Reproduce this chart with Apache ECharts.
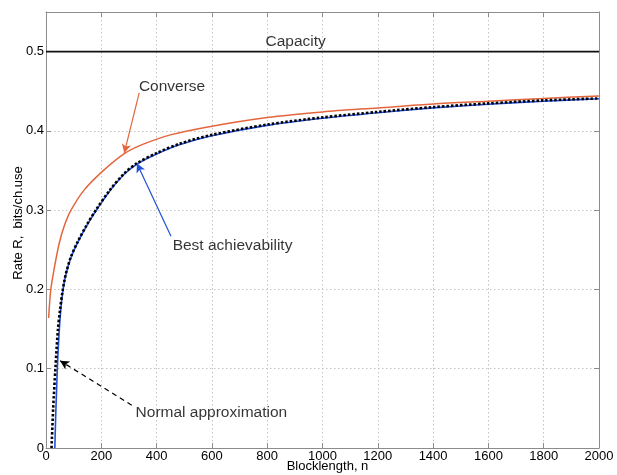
<!DOCTYPE html>
<html>
<head>
<meta charset="utf-8">
<script src="https://cdn.jsdelivr.net/npm/echarts@6/dist/echarts.min.js"></script>
<style>
html,body{margin:0;padding:0;background:#fff;}
#chart{width:617px;height:475px;}
</style>
</head>
<body>
<div id="chart"></div>
<script>
// ---- data ----
const xTicks = [0, 200, 400, 600, 800, 1000, 1200, 1400, 1600, 1800, 2000];
const yTicks = [0, 0.1, 0.2, 0.3, 0.4, 0.5];

const capacityN = [0, 2000];
const capacityR = [0.5, 0.5];

const converseN = [9.6, 17, 29, 47, 65, 89, 137, 204, 286, 350, 450, 600, 800, 1000, 1200, 1400, 1600, 1800, 2000];
const converseR = [0.164, 0.199, 0.225, 0.257, 0.279, 0.299, 0.325, 0.349, 0.372, 0.383, 0.395, 0.406, 0.417, 0.424, 0.429, 0.434, 0.4375, 0.441, 0.444];

const achieveN = [32, 35, 38, 41, 45, 51, 59, 67, 75, 90, 113, 150, 180, 230, 282, 328, 400, 485, 600, 800, 1000, 1200, 1400, 1600, 1800, 2000];
const achieveR = [0, 0.04, 0.07, 0.1, 0.13, 0.164, 0.193, 0.211, 0.223, 0.24, 0.258, 0.282, 0.299, 0.324, 0.345, 0.358, 0.371, 0.383, 0.394, 0.407, 0.416, 0.423, 0.429, 0.4337, 0.4375, 0.4405];

const normalN = [20, 26, 34, 43, 51, 59, 67, 75, 90, 113, 150, 180, 230, 282, 328, 400, 485, 600, 800, 1000, 1200, 1400, 1600, 1800, 2000];
const normalR = [0, 0.05, 0.1, 0.149, 0.175, 0.196, 0.212, 0.224, 0.241, 0.259, 0.283, 0.3, 0.325, 0.346, 0.359, 0.372, 0.384, 0.395, 0.408, 0.417, 0.424, 0.43, 0.4347, 0.4385, 0.441];

// annotations (data units)
const noteTexts = ['Capacity', 'Converse', 'Best achievability', 'Normal approximation'];
const noteAt = [[794, 0.512], [336, 0.456], [458, 0.255], [324, 0.0445]];
const arrowFrom = [null, [337, 0.448], [452, 0.267], [310, 0.054]];
const arrowTo = [null, [283, 0.372], [329, 0.359], [51, 0.110]];

// ---- styling ----
const FONT = '"Liberation Sans", Arial, Helvetica, sans-serif';
const ORANGE = '#E4663E';
const BLUE = '#2350D8';
const AXIS = '#8c8c8c';

const zip = (a, b) => a.map((v, i) => [v, b[i]]);

function arrowLine(i, color, dashed) {
  return {
    silent: true,
    symbol: ['none', 'arrow'],
    symbolSize: [7, 9],
    label: { show: false },
    lineStyle: { color: color, width: 1.2, type: dashed ? [5, 4] : 'solid' },
    data: [[{ coord: arrowFrom[i] }, { coord: arrowTo[i] }]]
  };
}

const baseX = {
  type: 'value', min: xTicks[0], max: xTicks[xTicks.length - 1], interval: xTicks[1] - xTicks[0]
};
const baseY = {
  type: 'value', min: 0, max: 0.55, interval: yTicks[1] - yTicks[0]
};

const chart = echarts.init(document.getElementById('chart'), null, { renderer: 'canvas' });
chart.setOption({
  animation: false,
  backgroundColor: '#fff',
  textStyle: { fontFamily: FONT },
  grid: { left: 46, right: 18, top: 12, bottom: 27, containLabel: false, outerBoundsMode: 'none' },
  xAxis: [
    Object.assign({}, baseX, {
      position: 'bottom',
      name: 'Blocklength, n', nameLocation: 'middle', nameGap: 12, nameMoveOverlap: false,
      nameTextStyle: { fontSize: 13, color: '#000', fontFamily: FONT, padding: [0, 0, 0, 10] },
      axisLine: { show: true, lineStyle: { color: AXIS, width: 1 } },
      axisTick: { show: true, inside: true, length: 5, lineStyle: { color: AXIS } },
      axisLabel: { fontSize: 13, color: '#000', margin: 2, fontFamily: FONT, formatter: v => String(v) },
      splitLine: { show: true, lineStyle: { color: '#c4c4c4', type: [1.5, 2.5], width: 1 } }
    }),
    Object.assign({}, baseX, {
      position: 'top',
      axisLine: { show: true, onZero: false, lineStyle: { color: AXIS, width: 1 } },
      axisTick: { show: true, inside: true, length: 5, lineStyle: { color: AXIS } },
      axisLabel: { show: false },
      splitLine: { show: false }
    })
  ],
  yAxis: [
    Object.assign({}, baseY, {
      position: 'left',
      name: 'Rate R,  bits/ch.use', nameLocation: 'middle', nameGap: 21, nameMoveOverlap: false,
      nameTextStyle: { fontSize: 13, color: '#000', fontFamily: FONT, padding: [0, 0, 0, 14] },
      axisLine: { show: true, onZero: false, lineStyle: { color: AXIS, width: 1 } },
      axisTick: { show: true, inside: true, length: 5, lineStyle: { color: AXIS } },
      axisLabel: { fontSize: 13, color: '#000', margin: 2, showMaxLabel: false, fontFamily: FONT,
        formatter: v => (v > 0.5 + 1e-9 ? '' : String(+v.toFixed(2))) },
      splitLine: { show: true, lineStyle: { color: '#c4c4c4', type: [1.5, 2.5], width: 1 } }
    }),
    Object.assign({}, baseY, {
      position: 'right',
      axisLine: { show: true, onZero: false, lineStyle: { color: AXIS, width: 1 } },
      axisTick: { show: true, inside: true, length: 5, lineStyle: { color: AXIS } },
      axisLabel: { show: false },
      splitLine: { show: false }
    })
  ],
  series: [
    {
      name: 'Capacity', type: 'line', data: zip(capacityN, capacityR),
      showSymbol: false, lineStyle: { color: '#111', width: 1.6 }, z: 3
    },
    {
      name: 'Converse', type: 'line', data: zip(converseN, converseR), smooth: 0.3,
      showSymbol: false, lineStyle: { color: ORANGE, width: 1.5 }, z: 3,
      markLine: arrowLine(1, ORANGE, false)
    },
    {
      name: 'Best achievability', type: 'line', data: zip(achieveN, achieveR), smooth: 0.3,
      showSymbol: false, lineStyle: { color: BLUE, width: 1.6 }, z: 3,
      markLine: arrowLine(2, BLUE, false)
    },
    {
      name: 'Normal approximation', type: 'line', data: zip(normalN, normalR), smooth: 0.3,
      showSymbol: false, lineStyle: { color: '#000', width: 2.6, type: [2.5, 2] }, z: 4,
      markLine: arrowLine(3, '#000', true)
    },
    {
      name: 'notes', type: 'scatter', symbolSize: 0, silent: true, z: 5,
      data: noteAt.map((p, i) => ({ value: [p[0], p[1]], name: noteTexts[i] })),
      label: {
        show: true, position: 'right', distance: 0, formatter: p => p.name,
        fontSize: 15.5, color: '#000', fontFamily: FONT, align: 'left', verticalAlign: 'middle'
      }
    }
  ]
});
</script>
</body>
</html>
